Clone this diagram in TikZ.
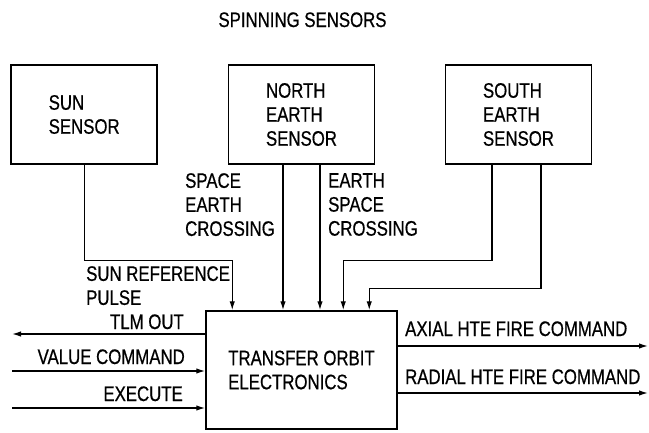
\documentclass[tikz,border=0pt]{standalone}
\usepackage{fontspec}
\newfontfamily\diagfont[FakeStretch=0.80,FakeBold=0.6]{Liberation Sans}
\usetikzlibrary{arrows.meta,positioning}

\begin{document}
\begin{tikzpicture}[x=1pt, y=-1pt, >={Latex[length=9pt,width=5.5pt]},
    every node/.style={font=\diagfont\fontsize{21}{24}\selectfont, inner sep=0pt},
    sensorbox/.style={draw, line width=1.5pt, align=left, minimum width=146pt, minimum height=99pt},
    sig/.style={->, line width=1.4pt}]
  \useasboundingbox (0,0) rectangle (649,432);
  \node[anchor=base] (title) at (302.5,27) {SPINNING SENSORS};
  % sensors
  \node[sensorbox] (sun) at (84.2,114.5) {SUN\\SENSOR};
  \node[sensorbox] (north) at (301.5,114.5) {NORTH\\EARTH\\SENSOR};
  \node[sensorbox] (south) at (518.5,114.5) {SOUTH\\EARTH\\SENSOR};
  \node[draw, line width=1.5pt, align=left, minimum width=191pt, minimum height=118pt] (toe) at (301.5,370) {TRANSFER ORBIT\\ELECTRONICS};
  % sensor signals
  \coordinate (ne1) at ([xshift=-18.5pt]north.south);
  \coordinate (ne2) at ([xshift=18.5pt]north.south);
  \coordinate (se1) at ([xshift=-26.5pt]south.south);
  \coordinate (se2) at ([xshift=22.5pt]south.south);
  \draw[sig] (sun.south) -- ++(0,95.5) -| ([xshift=27pt]toe.north west);
  \draw[sig] (ne1) -- (ne1 |- toe.north);
  \draw[sig] (ne2) -- (ne2 |- toe.north);
  \draw[sig] (se1) -- ++(0,95.5) -| ([xshift=138pt]toe.north west);
  \draw[sig] (se2) -- ++(0,123.5) -| ([xshift=164pt]toe.north west);
  \node[anchor=north west, align=left] (secross) at (185,173) {SPACE\\EARTH\\CROSSING};
  \node[anchor=north west, align=left] (escross) at (328,173) {EARTH\\SPACE\\CROSSING};
  \node[anchor=north west, align=left] (sunref) at (86,266) {SUN REFERENCE\\PULSE};
  % commands in and out
  \coordinate (tlm) at (12,334);
  \coordinate (valcmd) at (12,371);
  \coordinate (exec) at (12,408);
  \coordinate (axial) at (648,346);
  \coordinate (radial) at (648,393);
  \draw[sig] (toe.west |- tlm) -- (tlm);
  \draw[sig] (valcmd) -- (valcmd -| toe.west);
  \draw[sig] (exec) -- (exec -| toe.west);
  \draw[sig] (axial -| toe.east) -- (axial);
  \draw[sig] (radial -| toe.east) -- (radial);
  \node[anchor=base east] (tlmlbl) at (184,329) {TLM OUT};
  \node[anchor=base east] (vallbl) at (185,364) {VALUE COMMAND};
  \node[anchor=base east] (execlbl) at (183,401) {EXECUTE};
  \node[anchor=base west] (axlbl) at (405,336) {AXIAL HTE FIRE COMMAND};
  \node[anchor=base west] (radlbl) at (405,384) {RADIAL HTE FIRE COMMAND};
\end{tikzpicture}
\end{document}
